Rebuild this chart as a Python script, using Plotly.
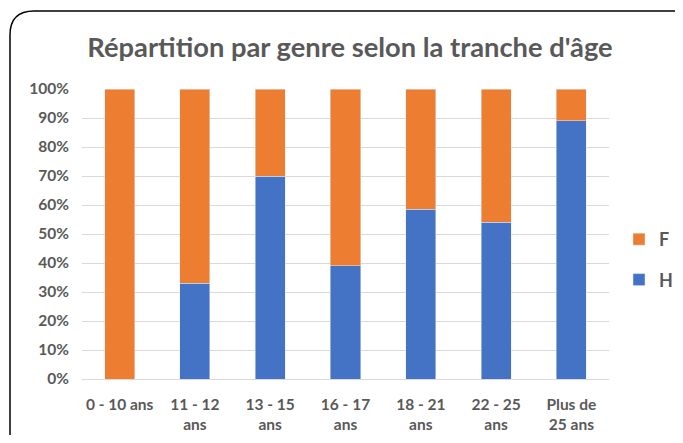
import plotly.graph_objects as go

categories = ["0 - 10 ans", "11 - 12<br>ans", "13 - 15<br>ans", "16 - 17<br>ans",
              "18 - 21<br>ans", "22 - 25<br>ans", "Plus de<br>25 ans"]
h_values = [0.0, 0.33, 0.70, 0.39, 0.585, 0.54, 0.89]
f_values = [1 - v for v in h_values]
y_ticks = [i / 10 for i in range(11)]
y_ticklabels = [f"{i * 10}%" for i in range(11)]

OFF = 8  # page body margin
W, H = 683 - 2 * OFF, 443 - 2 * OFF
# plot area in screen pixels
PL, PR, PT, PB = 82, 609, 89, 379
ML, MR, MT, MB = PL - OFF, W - (PR - OFF), PT - OFF, H - (PB - OFF)
PW, PH = W - ML - MR, H - MT - MB

def px(x):  # screen px -> paper
    return (x - OFF - ML) / PW

def py(y):
    return 1 - (y - OFF - MT) / PH

def cx(x):  # screen px -> container
    return (x - OFF) / W

def cy(y):
    return 1 - (y - OFF) / H

FONT = "Lato, 'Open Sans', sans-serif"
GREY = "#595959"

fig = go.Figure()
fig.add_trace(go.Bar(x=categories, y=h_values, name="H", marker_color="#4472C4",
                     legendgroup="H", legendrank=2))
fig.add_trace(go.Bar(x=categories, y=f_values, name="F", marker_color="#ED7D31",
                     legendgroup="F", legendrank=1))

# rounded frame (screen coords, partly cut off at right and bottom)
x0, y0, x1, y1, r = 10, 11, 700, 456, 24
path = (f"M {px(x0 + r)},{py(y0)} L {px(x1 - r)},{py(y0)} "
        f"Q {px(x1)},{py(y0)} {px(x1)},{py(y0 + r)} "
        f"L {px(x1)},{py(y1 - r)} Q {px(x1)},{py(y1)} {px(x1 - r)},{py(y1)} "
        f"L {px(x0 + r)},{py(y1)} Q {px(x0)},{py(y1)} {px(x0)},{py(y1 - r)} "
        f"L {px(x0)},{py(y0 + r)} Q {px(x0)},{py(y0)} {px(x0 + r)},{py(y0)} Z")

fig.update_layout(
    width=W, height=H,
    margin=dict(l=ML, r=MR, t=MT, b=MB, autoexpand=False),
    barmode="stack", bargap=0.6,
    plot_bgcolor="white", paper_bgcolor="white",
    title=dict(text="Répartition par genre selon la tranche d'âge",
               x=cx(350), xref="container", xanchor="center",
               y=cy(47), yref="container", yanchor="middle",
               font=dict(family=FONT, size=27.3, color=GREY, weight="bold")),
    font=dict(family=FONT, size=15.5, color=GREY),
    shapes=[dict(type="path", path=path, xref="paper", yref="paper",
                 line=dict(color="black", width=1.5), layer="below")],
    legend=dict(xref="container", yref="container", x=cx(619), y=cy(221),
                xanchor="left", yanchor="top",
                traceorder="grouped", tracegroupgap=14,
                font=dict(family=FONT, size=18, color=GREY, weight="bold"),
                bgcolor="rgba(0,0,0,0)"),
    showlegend=True,
)
fig.update_yaxes(range=[0, 1], tickvals=y_ticks, ticktext=y_ticklabels,
                 showgrid=True, gridcolor="#D9D9D9", gridwidth=1,
                 zeroline=False, showline=False, ticks="", automargin=False,
                 tickfont=dict(family=FONT, size=15.5, color=GREY, weight="bold"),
                 ticklabelstandoff=12)
fig.update_xaxes(showline=True, linecolor="#D9D9D9", linewidth=1, ticks="",
                 automargin=False, ticklabelstandoff=11,
                 tickfont=dict(family=FONT, size=15.5, color=GREY, weight="bold"))

fig.write_html("out.html")
